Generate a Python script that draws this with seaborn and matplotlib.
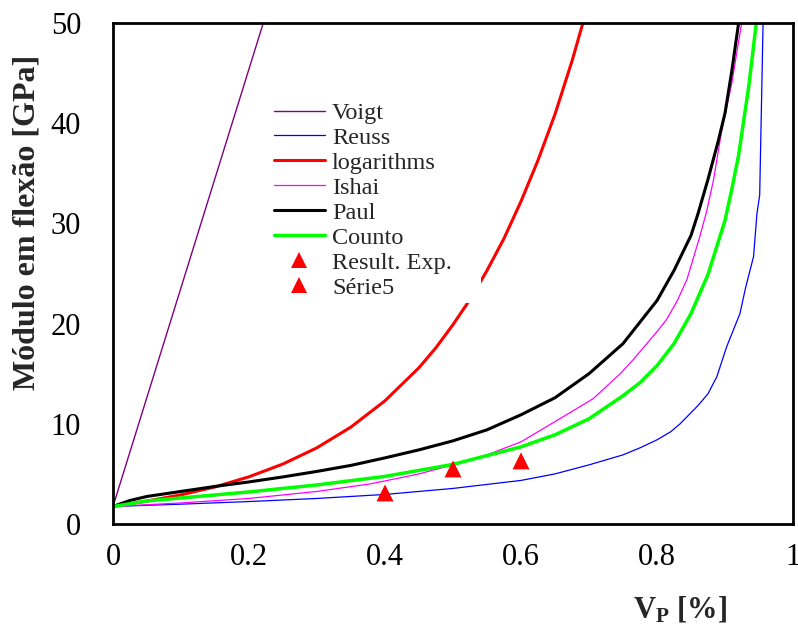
import matplotlib
matplotlib.use("Agg")
import matplotlib.pyplot as plt
from matplotlib.lines import Line2D
import seaborn as sns
import pandas as pd

# ---- data ----
vp_voigt = [0.0, 0.221]
e_voigt = [1.75, 50.0]

vp_reuss = [0.0, 0.1, 0.2, 0.3, 0.4, 0.5, 0.6, 0.65, 0.7, 0.75, 0.775, 0.8,
            0.82, 0.834, 0.86, 0.875, 0.888, 0.9025, 0.922, 0.93, 0.942,
            0.947, 0.951, 0.956]
e_reuss = [1.75, 1.98, 2.24, 2.55, 2.95, 3.55, 4.35, 5.0, 5.9, 6.9, 7.6, 8.4,
           9.2, 10.0, 11.8, 13.0, 14.7, 17.7, 21.0, 23.5, 26.7,
           31.0, 32.8, 50.0]

vp_log = [0.0, 0.05, 0.1, 0.15, 0.2, 0.25, 0.3, 0.35, 0.4, 0.45, 0.475, 0.5,
          0.525, 0.55, 0.575, 0.6, 0.625, 0.65, 0.675, 0.691]
e_log = [1.75, 2.29, 2.91, 3.70, 4.71, 5.99, 7.61, 9.68, 12.3, 15.6, 17.6,
         19.9, 22.4, 25.3, 28.5, 32.2, 36.3, 40.9, 46.2, 50.0]

vp_ishai = [0.0, 0.1, 0.2, 0.3, 0.378, 0.4, 0.45, 0.5, 0.55, 0.6, 0.657,
            0.706, 0.746, 0.765, 0.8, 0.814, 0.83, 0.844, 0.863, 0.873,
            0.883, 0.895, 0.91, 0.9245]
e_ishai = [1.75, 2.1, 2.55, 3.25, 4.0, 4.3, 5.0, 5.9, 6.9, 8.2, 10.5,
           12.5, 15.0, 16.4, 19.2, 20.4, 22.3, 24.4, 28.7, 31.2,
           34.3, 39.2, 44.0, 50.0]

vp_paul = [0.0, 0.025, 0.05, 0.1, 0.15, 0.2, 0.25, 0.3, 0.35, 0.4, 0.45, 0.5,
           0.55, 0.6, 0.65, 0.7, 0.75, 0.8, 0.825, 0.85, 0.86, 0.875, 0.89,
           0.9, 0.91, 0.92]
e_paul = [1.75, 2.35, 2.75, 3.25, 3.75, 4.2, 4.7, 5.25, 5.85, 6.6, 7.4, 8.3,
          9.4, 10.9, 12.6, 15.0, 18.0, 22.3, 25.3, 28.8, 30.9, 34.4, 38.2,
          41.0, 45.2, 50.0]

vp_counto = [0.0, 0.05, 0.1, 0.2, 0.3, 0.4, 0.5, 0.6, 0.65, 0.7, 0.75, 0.775,
             0.8, 0.825, 0.85, 0.875, 0.9, 0.91, 0.92, 0.935, 0.946]
e_counto = [1.75, 2.3, 2.6, 3.2, 3.9, 4.75, 5.95, 7.7, 8.9, 10.5, 12.8, 14.1,
            15.8, 18.0, 21.0, 24.9, 30.3, 33.4, 36.8, 43.7, 50.0]

vp_exp = [0.4, 0.5, 0.6]
e_exp = [3.1, 5.5, 6.3]

vp_serie5 = []
e_serie5 = []

x_ticks = [0, 0.2, 0.4, 0.6, 0.8, 1.0]
x_ticklabels = ["0", "0.2", "0.4", "0.6", "0.8", "1"]
y_ticks = [0, 10, 20, 30, 40, 50]

# ---- style ----
sns.set_theme(style="white")
plt.rcParams["font.family"] = ["Liberation Serif", "DejaVu Serif"]
plt.rcParams["mathtext.fontset"] = "custom"
plt.rcParams["mathtext.rm"] = "Liberation Serif"
plt.rcParams["mathtext.bf"] = "Liberation Serif:bold"
plt.rcParams["mathtext.it"] = "Liberation Serif:italic"

W, H = 798, 628
fig = plt.figure(figsize=(W / 100, H / 100), dpi=100)
ax = fig.add_axes([113 / W, 1 - 524 / H, 680 / W, 501 / H])

series = [
    ("Voigt", vp_voigt, e_voigt, "#800080", 1.0),
    ("Reuss", vp_reuss, e_reuss, "#0000FF", 0.9),
    ("logarithms", vp_log, e_log, "#FF0000", 2.2),
    ("Ishai", vp_ishai, e_ishai, "#FF00FF", 0.9),
    ("Paul", vp_paul, e_paul, "#000000", 2.2),
    ("Counto", vp_counto, e_counto, "#00FF00", 2.5),
]

handles = []
labels = []
for name, xs, ys, col, lw in series:
    df = pd.DataFrame({"vp": xs, "e": ys})
    sns.lineplot(data=df, x="vp", y="e", ax=ax, color=col, linewidth=lw,
                 sort=False, estimator=None, legend=False)
    handles.append(Line2D([], [], color=col, linewidth=lw))
    labels.append(name)

df_exp = pd.DataFrame({"vp": vp_exp, "e": e_exp})
sns.scatterplot(data=df_exp, x="vp", y="e", ax=ax, marker="^", s=150,
                color="#FF0000", edgecolor="none", linewidth=0, zorder=5,
                legend=False)
if len(vp_serie5):
    sns.scatterplot(x=vp_serie5, y=e_serie5, ax=ax, marker="^", s=150,
                    color="#FF0000", edgecolor="none", legend=False)

handles.append(Line2D([], [], color="#FF0000", marker="^", linestyle="none",
                      markersize=11, markeredgewidth=0))
labels.append("Result. Exp.")
handles.append(Line2D([], [], color="#FF0000", marker="^", linestyle="none",
                      markersize=11, markeredgewidth=0))
labels.append("Série5")

ax.set_xlim(0, 1)
ax.set_ylim(0, 50)
ax.set_xticks(x_ticks)
ax.set_xticklabels(x_ticklabels)
ax.set_yticks(y_ticks)

ax.tick_params(axis="both", direction="in", length=7, width=1.0,
               labelsize=22, colors="black")
ax.tick_params(axis="x", pad=14)
ax.tick_params(axis="y", pad=23)

for sp in ax.spines.values():
    sp.set_visible(True)
    sp.set_color("black")
    sp.set_linewidth(2.0)

ax.set_xlabel(r"$\mathbf{V_P}$ [%]", fontsize=22, fontweight="bold")
ax.xaxis.set_label_coords((680 - 113) / 680, (524 - 609) / 501)
ax.xaxis.label.set_va("center")
ax.xaxis.label.set_ha("center")

ax.set_ylabel("Módulo em flexão [GPa]", fontsize=23, fontweight="bold")
ax.yaxis.set_label_coords((27 - 113) / 680, (524 - 222) / 501)
ax.yaxis.label.set_va("center")
ax.yaxis.label.set_ha("center")

leg = ax.legend(handles, labels, loc="upper left",
                bbox_to_anchor=(0.229, 0.452, 0.312, 0.400), mode="expand",
                frameon=True, facecolor="white", edgecolor="none",
                framealpha=1, fancybox=False, fontsize=17.5, handlelength=2.1,
                handletextpad=0.3, labelspacing=0.12, borderpad=0.2,
                borderaxespad=0)
leg.set_zorder(10)

fig.savefig("out.png", dpi=100)
